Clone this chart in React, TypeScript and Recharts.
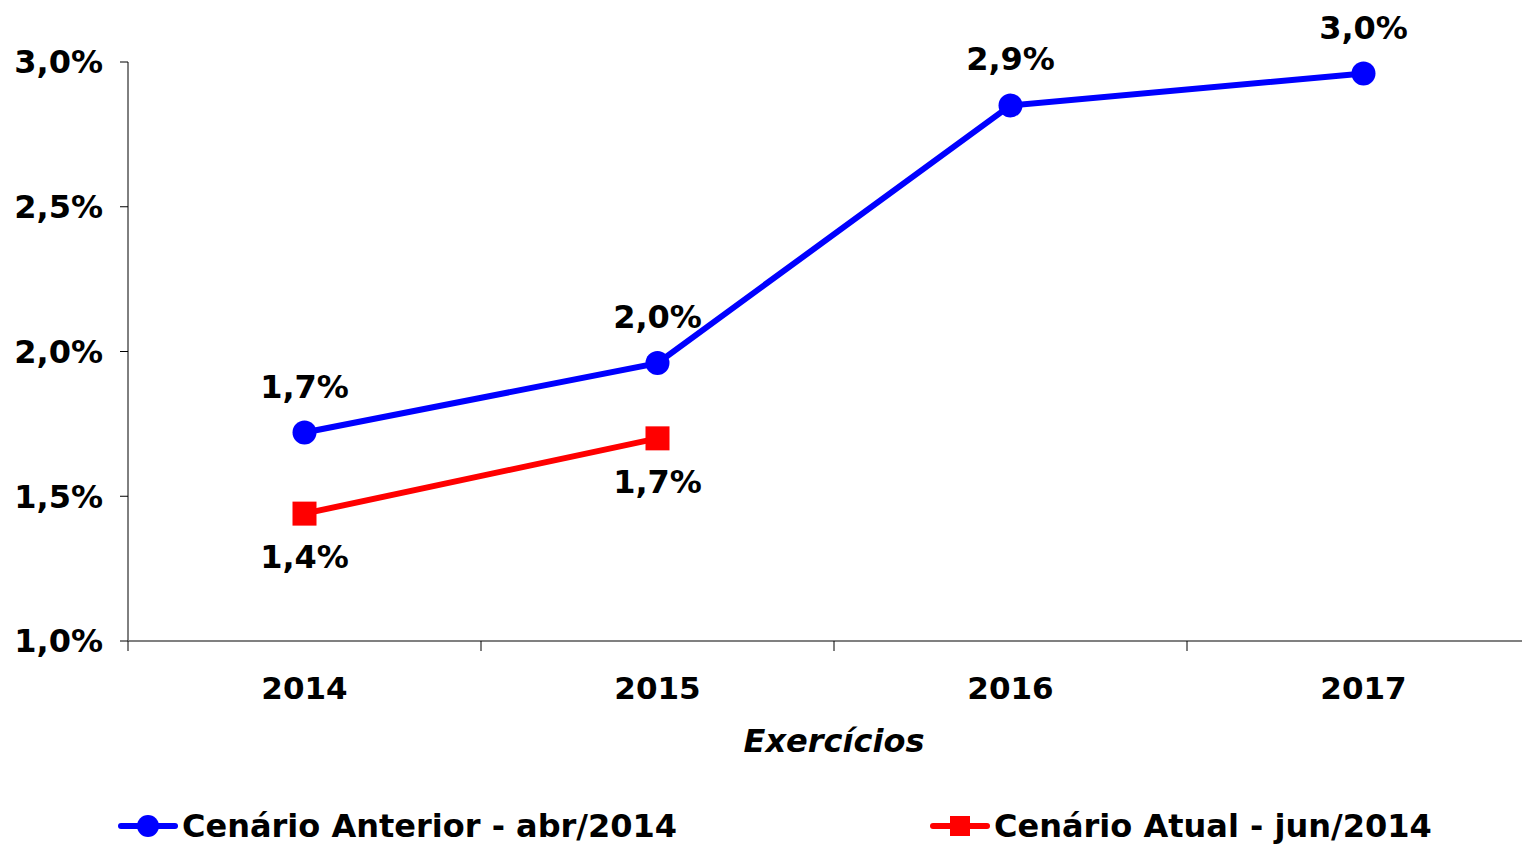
import React from 'react';
import { LabelList, Line, LineChart, XAxis, YAxis } from 'recharts';

const categories = ['2014', '2015', '2016', '2017'];
const anterior = [1.72, 1.96, 2.85, 2.96];
const atual: (number | null)[] = [1.44, 1.7, null, null];
const yTicks = [1.0, 1.5, 2.0, 2.5, 3.0];
const seriesNames = ['Cenário Anterior - abr/2014', 'Cenário Atual - jun/2014'];
const axisTitle = 'Exercícios';

// numeric x positions so tick marks can sit on category boundaries
const data = categories.map((year, i) => ({
  pos: i + 0.5,
  year,
  anterior: anterior[i],
  atual: atual[i],
}));
const xTicks = [0, 0.5, 1, 1.5, 2, 2.5, 3, 3.5, 4];

const FONT = "'DejaVu Sans', sans-serif";
const textStyle = { fontFamily: FONT, fontWeight: 700, fontSize: 32, fill: '#000' };

const pct = (v: number | null) =>
  v == null ? '' : `${v.toFixed(1).replace('.', ',')}%`;

function XTick(props: any) {
  const { x, y, payload } = props;
  const v = payload.value as number;
  if (Number.isInteger(v)) {
    return <line x1={x} x2={x} y1={y} y2={y + 10} stroke="#000" strokeWidth={1} />;
  }
  return (
    <text x={x} y={y + 58} textAnchor="middle" style={{ ...textStyle, fontSize: 31 }}>
      {categories[Math.floor(v)]}
    </text>
  );
}

function SquareDot(props: any) {
  const { cx, cy, index } = props;
  if (cx == null || cy == null) return <g key={`sq-${index}`} />;
  return <rect key={`sq-${index}`} x={cx - 12} y={cy - 12} width={24} height={24} fill="#FF0000" />;
}

function LegendItem({ color, square, name, left }: { color: string; square: boolean; name: string; left: number }) {
  return (
    <div style={{ position: 'absolute', left, top: 808, display: 'flex', alignItems: 'center' }}>
      <svg width={60} height={36}>
        <line x1={3} x2={57} y1={18} y2={18} stroke={color} strokeWidth={6} strokeLinecap="round" />
        {square ? (
          <rect x={20} y={8} width={20} height={20} fill={color} />
        ) : (
          <circle cx={30} cy={18} r={11} fill={color} />
        )}
      </svg>
      <span style={{ fontFamily: FONT, fontWeight: 700, fontSize: 32, color: '#000', marginLeft: 4, lineHeight: '36px' }}>
        {name}
      </span>
    </div>
  );
}

export default function App() {
  return (
    <div style={{ position: 'absolute', left: 0, top: 0, width: 1522, height: 844, overflow: 'hidden', background: '#fff' }}>
      <LineChart width={1560} height={844} data={data} margin={{ top: 62, right: 20, bottom: 83, left: 0 }}>
        <YAxis
          type="number"
          domain={[1, 3]}
          ticks={yTicks}
          tickFormatter={(v: number) => pct(v)}
          width={128}
          tickSize={8}
          tickMargin={17}
          axisLine={{ stroke: '#000', strokeWidth: 1 }}
          tickLine={{ stroke: '#000', strokeWidth: 1 }}
          tick={textStyle}
          interval={0}
        />
        <XAxis
          dataKey="pos"
          type="number"
          domain={[0, 4]}
          ticks={xTicks}
          interval={0}
          height={120}
          tickSize={0}
          tickMargin={0}
          tickLine={false}
          axisLine={{ stroke: '#808080', strokeWidth: 2 }}
          tick={<XTick />}
          label={{
            value: axisTitle,
            position: 'insideBottom',
            offset: 9,
            style: { ...textStyle, fontStyle: 'italic' },
          }}
        />
        <Line
          dataKey="anterior"
          name={seriesNames[0]}
          stroke="#0000FF"
          strokeWidth={6}
          dot={{ r: 12, fill: '#0000FF', stroke: 'none' }}
          isAnimationActive={false}
        >
          <LabelList dataKey="anterior" position="top" offset={35} formatter={pct} style={textStyle} />
        </Line>
        <Line
          dataKey="atual"
          name={seriesNames[1]}
          stroke="#FF0000"
          strokeWidth={6}
          dot={<SquareDot />}
          isAnimationActive={false}
        >
          <LabelList dataKey="atual" position="bottom" offset={32} formatter={pct} style={textStyle} />
        </Line>
      </LineChart>
      <LegendItem color="#0000FF" square={false} name={seriesNames[0]} left={118} />
      <LegendItem color="#FF0000" square name={seriesNames[1]} left={930} />
    </div>
  );
}
